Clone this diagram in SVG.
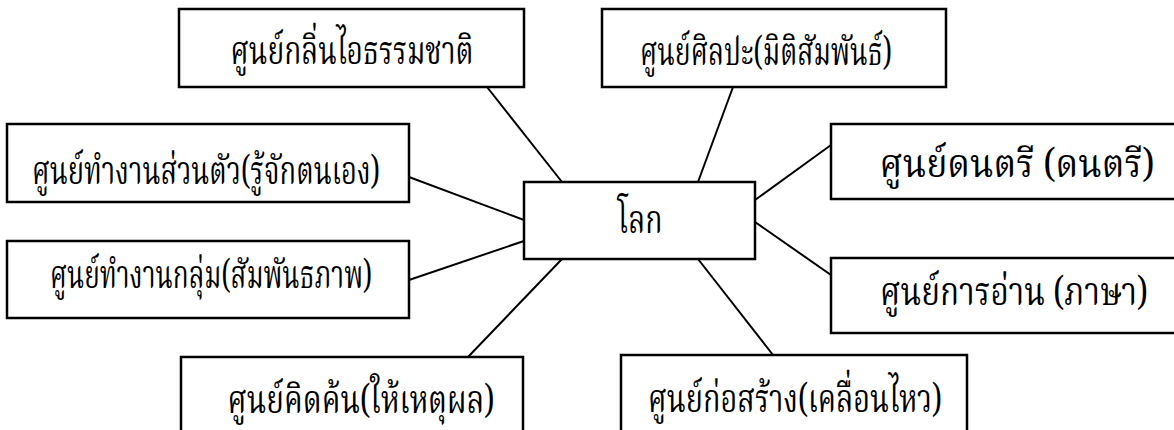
<svg xmlns="http://www.w3.org/2000/svg" width="1174" height="430" viewBox="0 0 1174 430">
<style>
.box{fill:#fff;stroke:#000;stroke-width:2.5}
.ln{stroke:#000;stroke-width:2;fill:none}
.t{font-family:"Noto Serif Thai","Noto Sans Thai Looped","Norasi","Loma","Noto Sans Thai","Noto Sans","DejaVu Sans",sans-serif;font-size:40px;fill:#000;text-anchor:middle}
</style>
<rect width="1174" height="430" fill="#fff"/>
<g id="connectors">
<line class="ln" x1="487" y1="87" x2="562" y2="182"/>
<line class="ln" x1="733" y1="87" x2="698" y2="182"/>
<line class="ln" x1="409" y1="177" x2="524" y2="220"/>
<line class="ln" x1="409" y1="280" x2="524" y2="241"/>
<line class="ln" x1="831" y1="145" x2="755" y2="200"/>
<line class="ln" x1="831" y1="275" x2="755" y2="222"/>
<line class="ln" x1="468" y1="357" x2="562" y2="259"/>
<line class="ln" x1="773" y1="355" x2="698" y2="259"/>
</g>
<g id="n-center"><rect class="box" x="524" y="182" width="231" height="77"/><text class="t" x="640" y="233" textLength="45" lengthAdjust="spacingAndGlyphs">โลก</text></g>
<g id="n-nature"><rect class="box" x="179" y="9" width="345" height="78"/><text class="t" x="352" y="64" textLength="243" lengthAdjust="spacingAndGlyphs">ศูนย์กลิ่นไอธรรมชาติ</text></g>
<g id="n-art"><rect class="box" x="602" y="9" width="344" height="78"/><text class="t" x="766" y="65" textLength="252" lengthAdjust="spacingAndGlyphs">ศูนย์ศิลปะ(มิติสัมพันธ์)</text></g>
<g id="n-self"><rect class="box" x="7" y="124" width="402" height="78"/><text class="t" x="206" y="184" textLength="348" lengthAdjust="spacingAndGlyphs">ศูนย์ทำงานส่วนตัว(รู้จักตนเอง)</text></g>
<g id="n-group"><rect class="box" x="7" y="241" width="402" height="77"/><text class="t" x="211" y="288" textLength="322" lengthAdjust="spacingAndGlyphs">ศูนย์ทำงานกลุ่ม(สัมพันธภาพ)</text></g>
<g id="n-music"><rect class="box" x="831" y="124" width="350" height="75"/><text class="t" x="1017" y="177" textLength="275" lengthAdjust="spacingAndGlyphs">ศูนย์ดนตรี (ดนตรี)</text></g>
<g id="n-read"><rect class="box" x="831" y="258" width="350" height="75"/><text class="t" x="1014" y="305" textLength="268" lengthAdjust="spacingAndGlyphs">ศูนย์การอ่าน (ภาษา)</text></g>
<g id="n-think"><rect class="box" x="181" y="357" width="342" height="85"/><text class="t" x="361" y="413" textLength="267" lengthAdjust="spacingAndGlyphs">ศูนย์คิดค้น(ให้เหตุผล)</text></g>
<g id="n-build"><rect class="box" x="621" y="355" width="346" height="87"/><text class="t" x="795" y="412" textLength="294" lengthAdjust="spacingAndGlyphs">ศูนย์ก่อสร้าง(เคลื่อนไหว)</text></g>
</svg>
